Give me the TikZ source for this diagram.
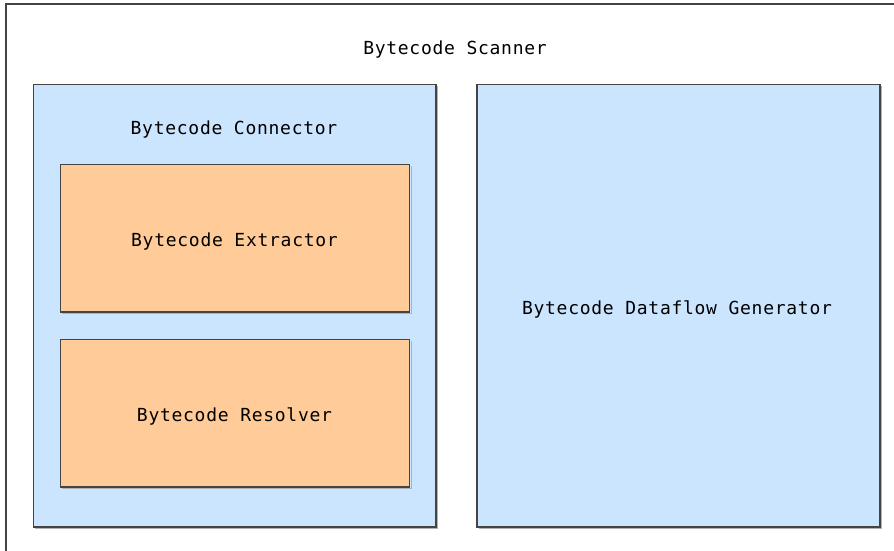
\documentclass[tikz,border=0pt]{standalone}
\usepackage{fontspec}
\newfontfamily\boxfont[LetterSpace=4.0]{DejaVu Sans Mono}
\definecolor{bluefill}{HTML}{CCE5FF}
\definecolor{orangefill}{HTML}{FFCC99}
\definecolor{edge}{HTML}{444444}
\begin{document}
\begin{tikzpicture}[x=1pt,y=-1pt,
  frame/.style={draw=edge,line width=1.2pt},
  bluebox/.style={frame,fill=bluefill},
  orangebox/.style={frame,fill=orangefill},
  lbl/.style={font=\boxfont\fontsize{18}{20}\selectfont,text=black,inner sep=0pt}]
\useasboundingbox (0,0) rectangle (894,551);
\fill[white] (0,0) rectangle (894,551);
% outer scanner
\draw[frame] (6,4) rectangle (900,560);
\node[lbl] (scanner) at (455,50) {Bytecode Scanner};
% connector
\draw[gray!60,line width=1pt] (437.5,86) -- (437.5,528.5) -- (35,528.5);
\draw[bluebox] (33.5,84.5) rectangle (436,527);
\node[lbl] (connector) at (234,130) {Bytecode Connector};
% extractor
\draw[gray!60,line width=1pt] (411,166) -- (411,313.5) -- (62,313.5);
\draw[orangebox] (60.5,164.5) rectangle (409.5,312);
\node[lbl] (extractor) at (234.5,242) {Bytecode Extractor};
% resolver
\draw[gray!60,line width=1pt] (411,341) -- (411,488.5) -- (62,488.5);
\draw[orangebox] (60.5,339.5) rectangle (409.5,487);
\node[lbl] (resolver) at (234.5,416) {Bytecode Resolver};
% dataflow generator
\draw[gray!60,line width=1pt] (881.5,86) -- (881.5,528.5) -- (479,528.5);
\draw[bluebox] (477,84.5) rectangle (880,527);
\node[lbl] (dataflow) at (677,309) {Bytecode Dataflow Generator};
\end{tikzpicture}
\end{document}
